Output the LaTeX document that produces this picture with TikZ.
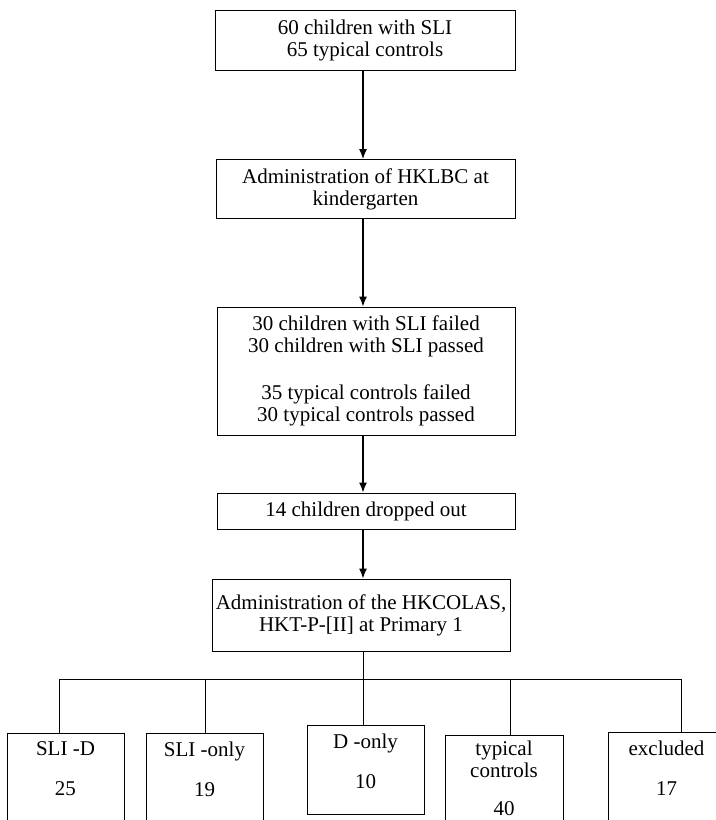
\documentclass[tikz,border=0pt]{standalone}
\usepackage{fontspec}
\setmainfont{Liberation Serif}
\usetikzlibrary{arrows.meta}

\tikzset{
  box/.style={draw, line width=0.9bp, align=center, inner sep=0pt},
  group/.style={box, anchor=north, minimum width=117bp, inner ysep=8bp},
  flow/.style={line width=1.4bp, -{Latex[length=10bp,width=8bp]}},
  tree/.style={line width=0.9bp}
}

\begin{document}
\begin{tikzpicture}[x=1bp, y=-1bp, font=\fontsize{21bp}{22bp}\selectfont]
      \clip (0,0) rectangle (716,820);
      \coordinate (axis) at (363,0);

      % Boxes
      \node[box, minimum width=300bp, minimum height=60bp] (start) at (365,40)
        {60 children with SLI\\65 typical controls};
      \node[box, minimum width=299bp, minimum height=59bp] (hklbc) at (365.5,189)
        {Administration of HKLBC at\\kindergarten};
      \node[box, minimum width=298bp, minimum height=128bp] (screen) at (366,371)
        {30 children with SLI failed\\30 children with SLI passed\\[25bp]
         35 typical controls failed\\30 typical controls passed};
      \node[box, minimum width=298bp, minimum height=36bp] (drop) at (366,511)
        {14 children dropped out};
      \node[box, minimum width=298bp, minimum height=72bp] (hkcolas) at (361,615)
        {Administration of the HKCOLAS,\\HKT-P-[II] at Primary 1};

      % Groups
      \node[group, text depth=60bp] (slid) at (65.5,733) {SLI -D\\[18bp]25};
      \node[group, text depth=60bp] (slionly) at (204.5,733) {SLI -only\\[18bp]19};
      \node[group, text depth=18bp] (donly) at (365.5,725) {D -only\\[18bp]10};
      \node[group, text depth=60bp, minimum width=118bp, inner ysep=5bp] (typical) at (504,735)
        {typical\\controls\\[16bp]40};
      \node[group, text depth=60bp] (excluded) at (666.5,732) {excluded\\[18bp]17};

      % Arrows
      \draw[flow] (start.south -| axis) -- (hklbc.north -| axis);
      \draw[flow] (hklbc.south -| axis) -- (screen.north -| axis);
      \draw[flow] (screen.south -| axis) -- (drop.north -| axis);
      \draw[flow] (drop.south -| axis) -- (hkcolas.north -| axis);

      % Split
      \coordinate (b1) at (59,679);
      \coordinate (b2) at (205,679);
      \coordinate (b3) at (363,679);
      \coordinate (b4) at (510,679);
      \coordinate (b5) at (681,679);
      \draw[tree] (hkcolas.south -| b3) -- (b3);
      \draw[tree] (b1) -- (b5);
      \foreach \b/\g in {b1/slid, b2/slionly, b3/donly, b4/typical, b5/excluded}
        \draw[tree] (\b) -- (\b |- \g.north);
\end{tikzpicture}
\end{document}
